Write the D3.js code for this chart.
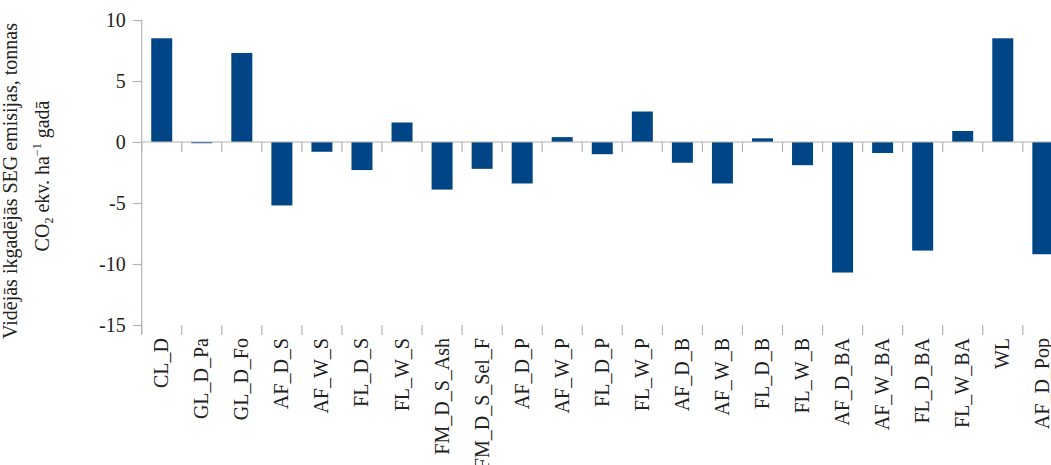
<!DOCTYPE html>
<html>
<head>
<meta charset="utf-8">
<script src="https://cdn.jsdelivr.net/npm/d3@7"></script>
<style>
  html, body { margin: 0; padding: 0; background: #fff; }
  svg { display: block; }
</style>
</head>
<body>
<div id="chart"></div>
<script>
const categories = ["CL_D","GL_D_Pa","GL_D_Fo","AF_D_S","AF_W_S","FL_D_S","FL_W_S","FM_D_S_Ash","FM_D_S_Sel_F","AF_D_P","AF_W_P","FL_D_P","FL_W_P","AF_D_B","AF_W_B","FL_D_B","FL_W_B","AF_D_BA","AF_W_BA","FL_D_BA","FL_W_BA","WL","AF_D_Pop"];
const values = [8.5, -0.1, 7.3, -5.2, -0.8, -2.3, 1.6, -3.9, -2.2, -3.4, 0.4, -1.0, 2.5, -1.7, -3.4, 0.3, -1.9, -10.7, -0.9, -8.9, 0.9, 8.5, -9.2];
const yTicks = [-15, -10, -5, 0, 5, 10];
const yTitle1 = "Vidējās ikgadējās SEG emisijas, tonnas";

const W = 1051, H = 465;
const FONT = "'Liberation Serif', serif";
const AXIS = "#b3b3b3";
const BAR = "#004586";

const svg = d3.select("#chart").append("svg").attr("width", W).attr("height", H);

const x0 = 141.7, step = 40.05;
const x = d3.scaleBand().domain(categories)
  .range([x0, x0 + step * categories.length])
  .paddingInner(0.476).paddingOuter(0.238);
const y = d3.scaleLinear().domain([-15, 10]).range([325, 20]);

// bars
svg.append("g").selectAll("rect").data(categories).join("rect")
  .attr("x", d => x(d))
  .attr("width", x.bandwidth())
  .attr("y", (d, i) => Math.min(y(values[i]), y(0)))
  .attr("height", (d, i) => Math.abs(y(values[i]) - y(0)))
  .attr("fill", BAR);

// zero line
svg.append("line").attr("x1", x0).attr("x2", W).attr("y1", y(0)).attr("y2", y(0))
  .attr("stroke", AXIS).attr("stroke-width", 1.2);

// y axis
const yAxis = d3.axisLeft(y).tickValues(yTicks).tickSize(9).tickPadding(7).tickFormat(d => String(d));
const gy = svg.append("g").attr("transform", `translate(${x0},0)`).call(yAxis);
gy.select(".domain").remove();
gy.selectAll(".tick line").attr("stroke", AXIS).attr("stroke-width", 1.2);
gy.selectAll(".tick text").attr("font-family", FONT).attr("font-size", 20).attr("fill", "#222");
svg.append("line").attr("x1", x0).attr("x2", x0).attr("y1", y(10)).attr("y2", y(-15) + 9)
  .attr("stroke", AXIS).attr("stroke-width", 1.2);

// category boundary ticks
const bounds = d3.range(categories.length + 1).map(i => x0 + i * step);
svg.append("g").selectAll("line.t0").data(bounds).join("line")
  .attr("x1", d => d).attr("x2", d => d).attr("y1", y(0)).attr("y2", y(0) + 10)
  .attr("stroke", AXIS).attr("stroke-width", 1.2);
svg.append("g").selectAll("line.t1").data(bounds).join("line")
  .attr("x1", d => d).attr("x2", d => d).attr("y1", y(-15)).attr("y2", y(-15) + 10)
  .attr("stroke", AXIS).attr("stroke-width", 1.2);

// category labels
svg.append("g").selectAll("text").data(categories).join("text")
  .attr("transform", d => `translate(${x(d) + x.bandwidth() / 2 + 6.5},338) rotate(-90)`)
  .attr("text-anchor", "end")
  .attr("font-family", FONT).attr("font-size", 20).attr("fill", "#222")
  .text(d => d);

// y title
const t1 = svg.append("text")
  .attr("transform", "translate(17,181) rotate(-90)")
  .attr("text-anchor", "middle").attr("font-family", FONT).attr("font-size", 20).attr("fill", "#222")
  .text(yTitle1);
const t2 = svg.append("text")
  .attr("transform", "translate(49,176) rotate(-90)")
  .attr("text-anchor", "middle").attr("font-family", FONT).attr("font-size", 20).attr("fill", "#222");
t2.append("tspan").text("CO");
t2.append("tspan").attr("font-size", 12).attr("dy", 4).text("2");
t2.append("tspan").attr("dy", -4).text(" ekv. ha");
t2.append("tspan").attr("font-size", 12).attr("dy", -8).text("−1");
t2.append("tspan").attr("dy", 8).text(" gadā");
</script>
</body>
</html>
